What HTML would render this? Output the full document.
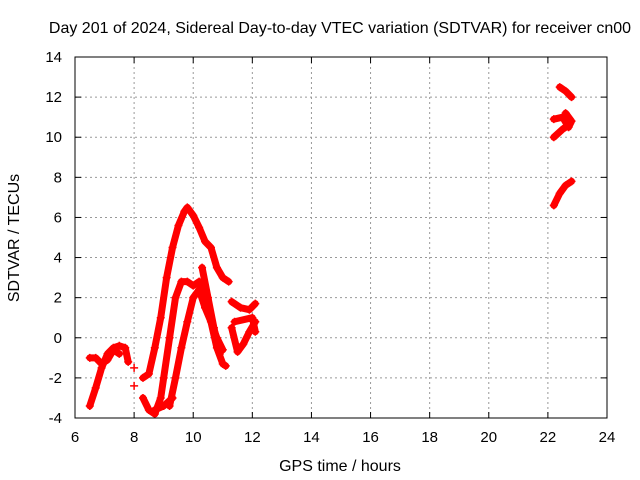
<!DOCTYPE html>
<html><head><meta charset="utf-8"><style>
body{margin:0;background:#fff;}
svg{display:block;font-family:"Liberation Sans",sans-serif;}
</style></head><body>
<svg id="chart" width="640" height="480">
<text x="340" y="33" font-size="16" text-anchor="middle">Day 201 of 2024, Sidereal Day-to-day VTEC variation (SDTVAR) for receiver cn00</text>
<text x="340" y="471" font-size="16" text-anchor="middle">GPS time / hours</text>
<text transform="translate(19,238) rotate(-90)" font-size="16" text-anchor="middle">SDTVAR / TECUs</text>
<g id="grid"></g><g id="series"></g>
<rect x="75" y="57" width="532" height="361" fill="none" stroke="#000" stroke-width="1"/>
</svg>
<script>
const xTicks=[6,8,10,12,14,16,18,20,22,24];
const yTicks=[-4,-2,0,2,4,6,8,10,12,14];
const trackA=[[6.5,-3.4],[6.7,-2.5],[6.9,-1.5],[7.1,-0.8],[7.3,-0.5],[7.5,-0.4],[7.7,-0.5],[7.8,-1.2]];
const trackA2=[[6.5,-1.0],[6.7,-1.0],[6.9,-1.3],[7.1,-1.1],[7.3,-0.6],[7.5,-0.8]];
const isolated=[[8.0,-1.5],[8.0,-2.4]];
const trackB=[[8.3,-2.0],[8.5,-1.8],[8.7,-0.5],[8.9,1],[9.1,3],[9.3,4.5],[9.5,5.6],[9.7,6.3],[9.8,6.5],[10.0,6.1],[10.2,5.5],[10.4,4.8],[10.6,4.5],[10.8,3.5],[11.0,3.0],[11.2,2.8]];
const trackC=[[8.3,-3],[8.5,-3.6],[8.7,-3.8],[8.9,-3],[9.0,-2],[9.2,0],[9.4,2],[9.6,2.8],[9.8,2.8],[10.0,2.6],[10.2,2.8],[10.4,2.0],[10.6,0.8],[10.8,-0.5],[11.0,-1.3],[11.1,-1.4]];
const trackD=[[8.7,-3.6],[9.0,-3.4],[9.3,-3.0]];
const trackD2=[[9.2,-3.4],[9.4,-2],[9.6,-0.5],[9.8,0.8],[10.0,2],[10.2,2.4],[10.4,1.5],[10.6,0.8],[10.8,0],[11.0,-0.6]];
const trackE=[[10.3,3.5],[10.5,2],[10.7,0.5],[10.9,-0.8]];
const trackF=[[11.3,1.8],[11.6,1.5],[11.9,1.4],[12.1,1.7]];
const trackG=[[11.3,0.5],[11.5,-0.7],[11.7,-0.3],[11.9,0.3],[12.1,0.8]];
const trackH=[[11.4,0.8],[12.0,1.0],[12.1,0.3]];
const trackI=[[22.4,12.5],[22.6,12.3],[22.8,12.0]];
const trackJ=[[22.2,10.9],[22.5,11.0],[22.7,10.5],[22.8,10.8],[22.6,11.2]];
const trackK=[[22.2,10.0],[22.5,10.4],[22.7,10.6]];
const trackL=[[22.2,6.6],[22.4,7.2],[22.6,7.6],[22.8,7.8]];
const tracks=[trackA,trackA2,trackB,trackC,trackD,trackD2,trackE,trackF,trackG,trackH,trackI,trackJ,trackK,trackL];
const NS="http://www.w3.org/2000/svg";
const X=h=>75+(h-6)*532/18, Y=v=>418-(v+4)*361/18;
const g=document.getElementById('grid'), s=document.getElementById('series');
function mk(t,a,p){const e=document.createElementNS(NS,t);for(const k in a)e.setAttribute(k,a[k]);p.appendChild(e);return e;}
xTicks.forEach(t=>{const x=X(t);
 if(t>6&&t<24){const l=mk('line',{x1:x,y1:57,x2:x,y2:418,stroke:'#999','stroke-dasharray':'2,3'},g);
 
 }
 mk('line',{x1:x,y1:418,x2:x,y2:412,stroke:'#000'},g);mk('line',{x1:x,y1:57,x2:x,y2:63,stroke:'#000'},g);
 const tx=mk('text',{x:x,y:442,'font-size':15,'text-anchor':'middle'},g);tx.textContent=t;
 
 });
yTicks.forEach(t=>{const y=Y(t);
 if(t>-4&&t<14){const l=mk('line',{x1:75,y1:y,x2:607,y2:y,stroke:'#999','stroke-dasharray':'2,3'},g);
 
 }
 mk('line',{x1:75,y1:y,x2:81,y2:y,stroke:'#000'},g);mk('line',{x1:607,y1:y,x2:601,y2:y,stroke:'#000'},g);
 const tx=mk('text',{x:62,y:y+5,'font-size':15,'text-anchor':'end'},g);tx.textContent=t;
 
 });
function plus(h,v){const x=X(h),y=Y(v);
 const p=mk('path',{d:`M${x-4},${y}H${x+4}M${x},${y-4}V${y+4}`,stroke:'#f00','stroke-width':1.5},s);
 
 }
tracks.forEach(tr=>{
 const pl=mk('polyline',{points:tr.map(p=>X(p[0])+','+Y(p[1])).join(' '),fill:'none',stroke:'#f00','stroke-width':7,'stroke-linejoin':'round','stroke-linecap':'round'},s);
 
 
 tr.forEach(p=>plus(p[0],p[1]));});
isolated.forEach(p=>plus(p[0],p[1]));
</script>
</body></html>
